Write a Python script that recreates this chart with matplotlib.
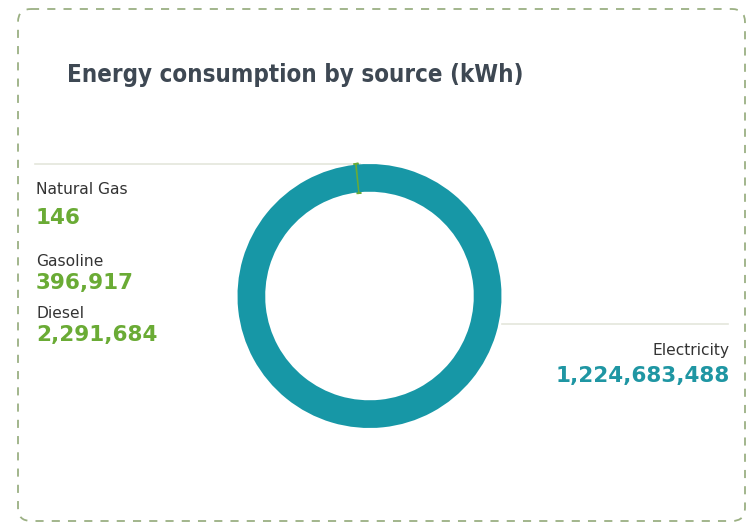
import matplotlib.pyplot as plt
from matplotlib.patches import FancyBboxPatch

# energy use per source, kWh
sources = ['Natural Gas', 'Gasoline', 'Diesel', 'Electricity']
kwh = [146, 396917, 2291684, 1224683488]
colors = ['#6aab35', '#6aab35', '#6aab35', '#1797a6']

W, H = 749, 525
fig = plt.figure(figsize=(W / 100, H / 100), dpi=100)

# overlay axes in pixel units for the frame, title, labels and leader lines
bg = fig.add_axes([0, 0, 1, 1])
bg.set_xlim(0, W)
bg.set_ylim(H, 0)
bg.axis('off')

frame = FancyBboxPatch((18, 9), 727, 512, boxstyle='round,pad=0,rounding_size=13',
                       fill=False, ec='#9bb083', lw=1.3, ls=(0, (4.5, 4.5)))
bg.add_patch(frame)

bg.text(67, 75, 'Energy consumption by source (kWh)', fontsize=17.3, fontweight='bold',
        color='#3e4853', family='DejaVu Sans', fontstretch='condensed', va='center')

# donut
cx, cy, r = 369.5, 296, 132
ax = fig.add_axes([(cx - r) / W, (H - cy - r) / H, 2 * r / W, 2 * r / H])
wedges, _ = ax.pie(kwh, colors=colors, startangle=95.5, counterclock=True,
                   wedgeprops=dict(width=0.21, linewidth=0))
for w in wedges[:3]:
    w.set_edgecolor(w.get_facecolor())
    w.set_linewidth(2.5)
ax.set_xlim(-1, 1)
ax.set_ylim(-1, 1)

# leader lines
bg.plot([35, cx - 10], [164, 164], color='#e4e6dc', lw=1.2)
bg.plot([cx + r, 728], [324, 324], color='#e4e6dc', lw=1.2)

name_kw = dict(fontsize=11.2, color='#333333', family='DejaVu Sans')
val_kw = dict(fontsize=15.5, fontweight='bold', family='DejaVu Sans')

left_pos = [(190, 218), (262, 283), (313, 335)]
for name, v, (yn, yv) in zip(sources[:3], kwh[:3], left_pos):
    bg.text(36, yn, name, va='center', ha='left', **name_kw)
    bg.text(36, yv, f'{v:,}', va='center', ha='left', color='#6aab35', **val_kw)

bg.text(730, 350, sources[3], va='center', ha='right', **name_kw)
bg.text(730, 376, f'{kwh[3]:,}', va='center', ha='right', color='#1f96a3', **val_kw)

fig.savefig('out.png', dpi=100)
